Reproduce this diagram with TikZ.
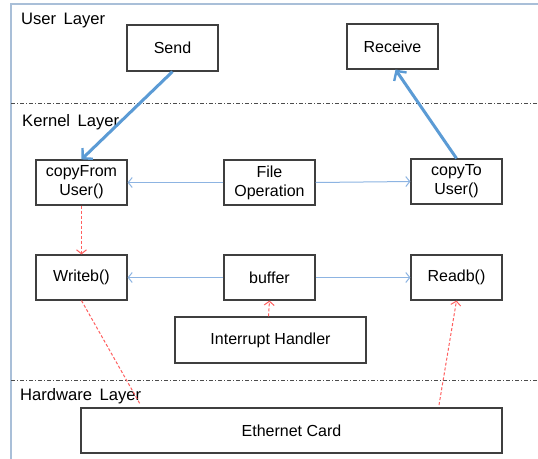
\documentclass[tikz,border=0pt]{standalone}
\usepackage{fontspec}
\setmainfont{Liberation Sans}
\usetikzlibrary{arrows.meta}
\definecolor{framec}{HTML}{A9BFD8}
\definecolor{boxline}{HTML}{3F3F3F}
\definecolor{flowblue}{HTML}{5B9BD5}
\definecolor{thinblue}{HTML}{8DB4E2}
\definecolor{dashred}{HTML}{FF5F5F}
\newcommand{\wordgap}{\hspace{7.5pt}}
\tikzset{
  blk/.style={draw=boxline, line width=1.2pt, fill=white, minimum width=91pt, minimum height=45pt,
    align=center, inner sep=0pt, font=\fontsize{16}{19}\selectfont},
  layertext/.style={anchor=west, inner sep=0pt, font=\fontsize{16.6}{19}\selectfont},
  layerline/.style={draw=black!70, line width=0.7pt, dash pattern=on 4pt off 2pt on 1pt off 2pt},
  userflow/.style={draw=flowblue, line width=3pt, -{Straight Barb[length=7pt,width=15pt,line width=2.4pt]}},
  callflow/.style={draw=thinblue, line width=1pt, -{Straight Barb[length=4pt,width=10pt]}},
  dataflow/.style={draw=dashred, line width=1pt, dash pattern=on 3pt off 2pt},
  dataflowhead/.style={dataflow, -{Straight Barb[length=4pt,width=10pt,line width=1pt]}}
}
\begin{document}
\begin{tikzpicture}[x=1pt,y=-1pt]
  \useasboundingbox[fill=white] (0,0) rectangle (538,458);

  % outer frame and layer separators
  \draw[framec, line width=1.5pt] (11,460) -- (11,4) -- (540,4);
  \draw[layerline] (11,103) -- (538,103);
  \draw[layerline] (11,380) -- (538,380);

  % layer captions
  \node[layertext] (ul) at (21,21) {User\wordgap Layer};
  \node[layertext] (kl) at (22,122) {Kernel\wordgap Layer};
  \node[layertext] (hl) at (20,396) {Hardware\wordgap Layer};

  % blocks
  \node[blk, minimum height=46pt] (send) at (172.5,48) {Send};
  \node[blk] (recv) at (392.5,46.5) {Receive};
  \node[blk] (cfu) at (81.5,182.5) {copyFrom\\User()};
  \node[blk] (fop) at (269.5,182.5) {File\\Operation};
  \node[blk] (ctu) at (456.5,181.5) {copyTo\\User()};
  \node[blk] (wrb) at (81.5,277.5) {Writeb()};
  \node[blk] (buf) at (269.5,277.5) {buffer};
  \node[blk] (rdb) at (456.5,277.5) {Readb()};
  \node[blk, minimum width=191pt, minimum height=46pt] (irq) at (270.5,340) {Interrupt Handler};
  \node[blk, minimum width=421pt] (eth) at (291.5,430.5) {Ethernet Card};

  % free ends of the hardware links
  \coordinate (wend) at (140,404);
  \coordinate (estart) at (439,405);

  % user/kernel crossings
  \draw[userflow] (send.south) -- (cfu.north);
  \draw[userflow] (ctu.north) -- ([xshift=3pt]recv.south);

  % calls inside the kernel
  \draw[callflow] (fop.west) -- (cfu.east);
  \draw[callflow] (fop.east) -- (ctu.west);
  \draw[callflow] (buf.west) -- (wrb.east);
  \draw[callflow] (buf.east) -- (rdb.west);

  % data path
  \draw[dataflowhead] (cfu.south) -- (wrb.north);
  \draw[dataflowhead] ([xshift=-2pt]irq.north) -- (buf.south);
  \draw[dataflow] (wrb.south) -- (wend);
  \draw[dataflowhead] (estart) -- (rdb.south);
\end{tikzpicture}
\end{document}
